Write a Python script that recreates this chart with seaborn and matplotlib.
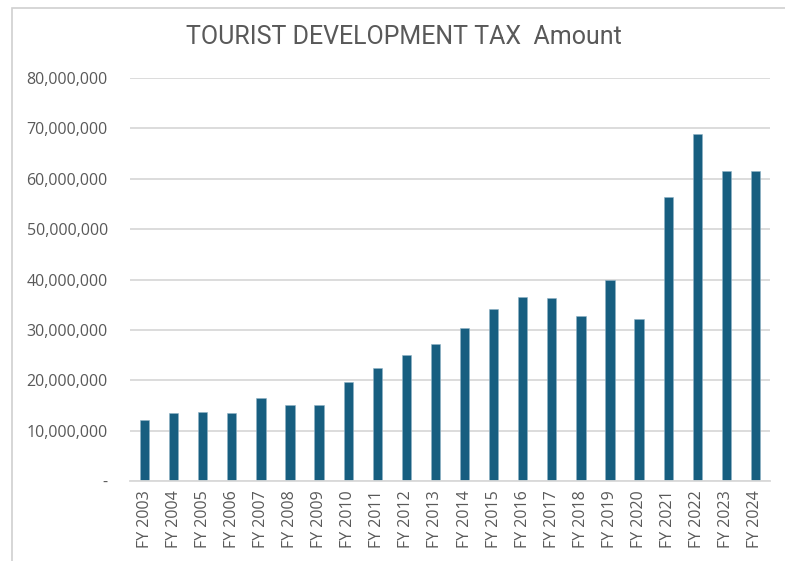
import matplotlib
matplotlib.use("Agg")
import matplotlib.pyplot as plt
import seaborn as sns
import pandas as pd
from matplotlib.ticker import FuncFormatter, MultipleLocator
from matplotlib.patches import Rectangle

years = ["FY 2003", "FY 2004", "FY 2005", "FY 2006", "FY 2007", "FY 2008", "FY 2009",
         "FY 2010", "FY 2011", "FY 2012", "FY 2013", "FY 2014", "FY 2015", "FY 2016",
         "FY 2017", "FY 2018", "FY 2019", "FY 2020", "FY 2021", "FY 2022", "FY 2023",
         "FY 2024"]
amounts = [12.2e6, 13.4e6, 13.7e6, 13.4e6, 16.4e6, 15.0e6, 15.0e6,
           19.7e6, 22.4e6, 25.0e6, 27.1e6, 30.4e6, 34.2e6, 36.6e6,
           36.3e6, 32.7e6, 39.9e6, 32.1e6, 56.4e6, 68.9e6, 61.5e6,
           61.5e6]
title = "TOURIST DEVELOPMENT TAX  Amount"

df = pd.DataFrame({"year": years, "amount": amounts})

sns.set_theme(style="white")
plt.rcParams['font.family'] = ['Open Sans', 'DejaVu Sans']

fig = plt.figure(figsize=(7.85, 5.61), dpi=100)
ax = fig.add_axes([130/785, 1-481/561, 640/785, (481-78)/561])

sns.barplot(data=df, x="year", y="amount", color="#175e80", saturation=1,
            width=0.32, ax=ax, edgecolor="#8fb3c6", linewidth=0.4)

ax.set_ylim(0, 80e6)
ax.set_xlim(-0.5, len(years) - 0.5)
ax.yaxis.set_major_locator(MultipleLocator(10e6))
ax.yaxis.set_major_formatter(FuncFormatter(lambda v, p: "-" if v == 0 else f"{int(round(v)):,}"))
ax.grid(axis="y", color="#d9d9d9", linewidth=1.3)
ax.set_axisbelow(True)
for s in ["top", "right", "left"]:
    ax.spines[s].set_visible(False)
ax.spines["bottom"].set_color("#d9d9d9")
ax.spines["bottom"].set_linewidth(1.3)
ax.set_xlabel("")
ax.set_ylabel("")
ax.tick_params(axis="y", length=0, pad=16, labelsize=11.5, labelcolor="#595959")
ax.tick_params(axis="x", length=0, pad=6.5, labelsize=11.5, labelcolor="#595959", rotation=90)

fig.text(404/785, 1-37/561, title, ha="center", va="center", fontsize=18,
         color="#595959", family=['Roboto', 'Open Sans', 'DejaVu Sans'])

fig.patches.append(Rectangle((12/785, -0.1), 1.2, 0.1 + (561-8)/561, transform=fig.transFigure,
                             fill=False, edgecolor="#d0d0d0", linewidth=1.2))

fig.savefig("out.png", dpi=100)
